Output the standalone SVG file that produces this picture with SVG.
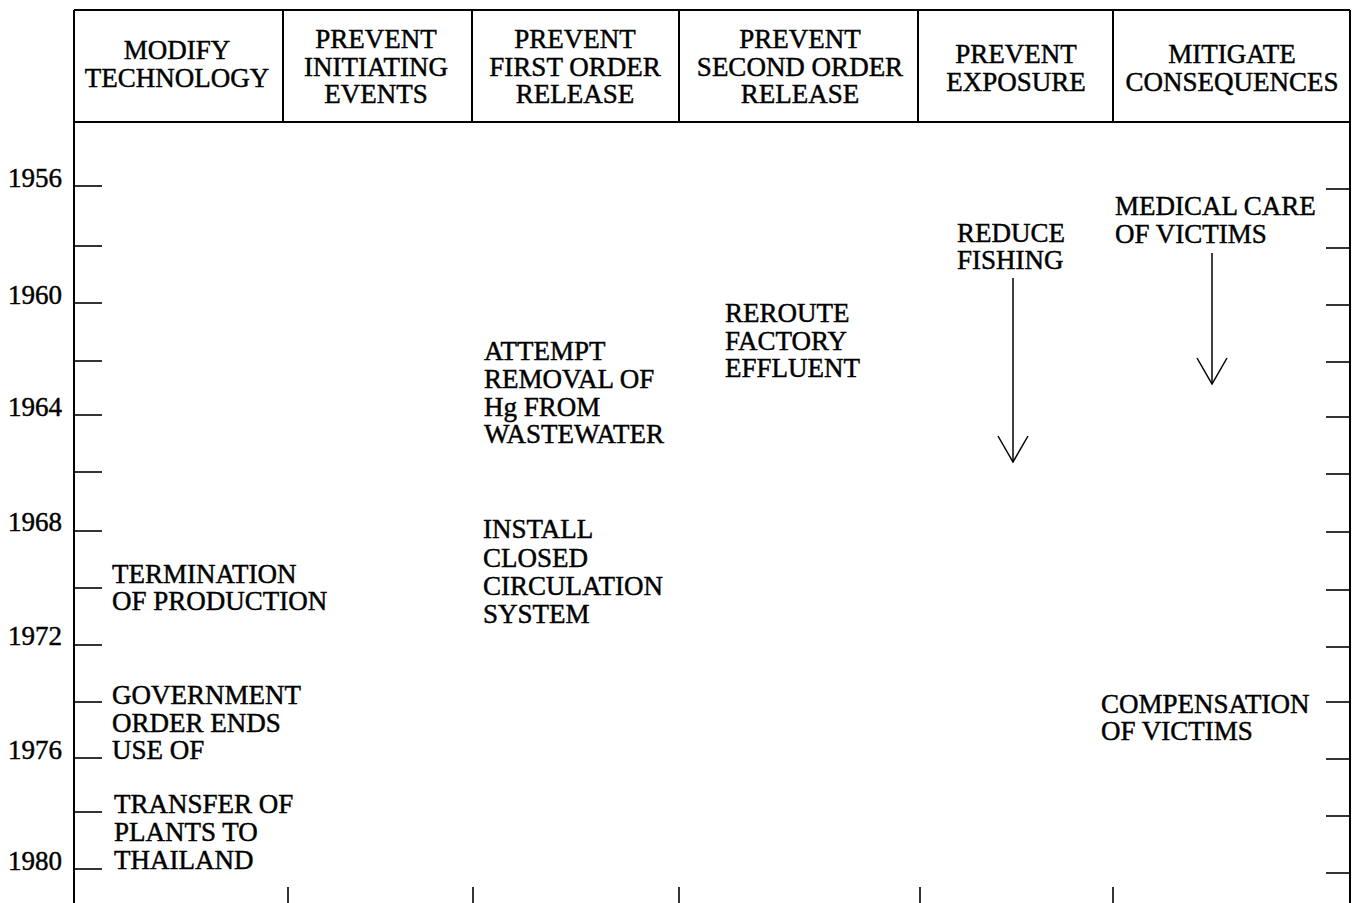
<svg xmlns="http://www.w3.org/2000/svg" width="1356" height="903" viewBox="0 0 1356 903">
<style>
text{font-family:"Liberation Serif","Times New Roman",serif;font-size:27px;fill:#000;stroke:#000;stroke-width:0.45}
.h{text-anchor:middle}
.y{text-anchor:end;font-size:27px}
.frame{stroke:#000;stroke-width:2;fill:none}
.tick{stroke:#000;stroke-width:1.6;fill:none}
.arr{stroke:#000;stroke-width:1.5;fill:none}
</style>
<defs>
<marker id="vhead" markerUnits="userSpaceOnUse" markerWidth="30" markerHeight="34" refX="27" refY="16" orient="auto" viewBox="0 0 30 34">
<path d="M1,1 L27,16 L1,31" fill="none" stroke="#000" stroke-width="1.5"/>
</marker>
</defs>
<rect width="1356" height="903" fill="#fff"/>

<g id="frame">
<line class="frame" x1="74" y1="10" x2="74" y2="903"/>
<line class="frame" x1="1350" y1="10" x2="1350" y2="903"/>
<line class="frame" x1="74" y1="10" x2="1350" y2="10"/>
<line class="frame" x1="74" y1="122" x2="1350" y2="122"/>
<line class="frame" x1="283" y1="10" x2="283" y2="122"/>
<line class="frame" x1="472" y1="10" x2="472" y2="122"/>
<line class="frame" x1="679" y1="10" x2="679" y2="122"/>
<line class="frame" x1="918" y1="10" x2="918" y2="122"/>
<line class="frame" x1="1113" y1="10" x2="1113" y2="122"/>
</g>

<g id="headers">
<g id="h-modify"><text class="h" x="177" y="59">MODIFY</text><text class="h" x="177" y="87">TECHNOLOGY</text></g>
<g id="h-initiating"><text class="h" x="376" y="48">PREVENT</text><text class="h" x="376" y="76">INITIATING</text><text class="h" x="376" y="103">EVENTS</text></g>
<g id="h-first"><text class="h" x="575" y="48">PREVENT</text><text class="h" x="575" y="76">FIRST ORDER</text><text class="h" x="575" y="103">RELEASE</text></g>
<g id="h-second"><text class="h" x="800" y="48">PREVENT</text><text class="h" x="800" y="76">SECOND ORDER</text><text class="h" x="800" y="103">RELEASE</text></g>
<g id="h-exposure"><text class="h" x="1016" y="63">PREVENT</text><text class="h" x="1016" y="91">EXPOSURE</text></g>
<g id="h-mitigate"><text class="h" x="1232" y="63">MITIGATE</text><text class="h" x="1232" y="91">CONSEQUENCES</text></g>
</g>

<g id="years">
<text class="y" x="62" y="187">1956</text>
<text class="y" x="62" y="304">1960</text>
<text class="y" x="62" y="416">1964</text>
<text class="y" x="62" y="531">1968</text>
<text class="y" x="62" y="645">1972</text>
<text class="y" x="62" y="759">1976</text>
<text class="y" x="62" y="870">1980</text>
</g>

<g id="left-ticks">
<line class="tick" x1="74" y1="186" x2="102" y2="186"/>
<line class="tick" x1="74" y1="246" x2="102" y2="246"/>
<line class="tick" x1="74" y1="303" x2="102" y2="303"/>
<line class="tick" x1="74" y1="361" x2="102" y2="361"/>
<line class="tick" x1="74" y1="415" x2="102" y2="415"/>
<line class="tick" x1="74" y1="472" x2="102" y2="472"/>
<line class="tick" x1="74" y1="531" x2="102" y2="531"/>
<line class="tick" x1="74" y1="588" x2="102" y2="588"/>
<line class="tick" x1="74" y1="645" x2="102" y2="645"/>
<line class="tick" x1="74" y1="702" x2="102" y2="702"/>
<line class="tick" x1="74" y1="758" x2="102" y2="758"/>
<line class="tick" x1="74" y1="812" x2="102" y2="812"/>
<line class="tick" x1="74" y1="869" x2="102" y2="869"/>
</g>

<g id="right-ticks">
<line class="tick" x1="1326" y1="189" x2="1350" y2="189"/>
<line class="tick" x1="1326" y1="248" x2="1350" y2="248"/>
<line class="tick" x1="1326" y1="305" x2="1350" y2="305"/>
<line class="tick" x1="1326" y1="362" x2="1350" y2="362"/>
<line class="tick" x1="1326" y1="417" x2="1350" y2="417"/>
<line class="tick" x1="1326" y1="474" x2="1350" y2="474"/>
<line class="tick" x1="1326" y1="532" x2="1350" y2="532"/>
<line class="tick" x1="1326" y1="590" x2="1350" y2="590"/>
<line class="tick" x1="1326" y1="647" x2="1350" y2="647"/>
<line class="tick" x1="1326" y1="702" x2="1350" y2="702"/>
<line class="tick" x1="1326" y1="759" x2="1350" y2="759"/>
<line class="tick" x1="1326" y1="816" x2="1350" y2="816"/>
<line class="tick" x1="1326" y1="873" x2="1350" y2="873"/>
</g>

<g id="bottom-ticks">
<line class="tick" x1="288" y1="887" x2="288" y2="903"/>
<line class="tick" x1="473" y1="887" x2="473" y2="903"/>
<line class="tick" x1="679" y1="887" x2="679" y2="903"/>
<line class="tick" x1="920" y1="887" x2="920" y2="903"/>
<line class="tick" x1="1113" y1="887" x2="1113" y2="903"/>
</g>

<g id="n-termination"><text x="112" y="583">TERMINATION</text><text x="112" y="610">OF PRODUCTION</text></g>
<g id="n-government"><text x="112" y="704">GOVERNMENT</text><text x="112" y="732">ORDER ENDS</text><text x="112" y="759">USE OF</text></g>
<g id="n-transfer"><text x="114" y="813">TRANSFER OF</text><text x="114" y="841">PLANTS TO</text><text x="114" y="869">THAILAND</text></g>
<g id="n-attempt"><text x="484" y="360">ATTEMPT</text><text x="484" y="388">REMOVAL OF</text><text x="484" y="416">Hg FROM</text><text x="484" y="443">WASTEWATER</text></g>
<g id="n-install"><text x="483" y="538">INSTALL</text><text x="483" y="567">CLOSED</text><text x="483" y="595">CIRCULATION</text><text x="483" y="623">SYSTEM</text></g>
<g id="n-reroute"><text x="725" y="322">REROUTE</text><text x="725" y="350">FACTORY</text><text x="725" y="377">EFFLUENT</text></g>
<g id="n-reduce"><text x="957" y="242">REDUCE</text><text x="957" y="269">FISHING</text></g>
<g id="n-medical"><text x="1115" y="215">MEDICAL CARE</text><text x="1115" y="243">OF VICTIMS</text></g>
<g id="n-compensation"><text x="1101" y="713">COMPENSATION</text><text x="1101" y="740">OF VICTIMS</text></g>

<g id="connectors">
<line class="arr" x1="1013" y1="278" x2="1013" y2="462" marker-end="url(#vhead)"/>
<line class="arr" x1="1212" y1="253" x2="1212" y2="384" marker-end="url(#vhead)"/>
</g>
</svg>
